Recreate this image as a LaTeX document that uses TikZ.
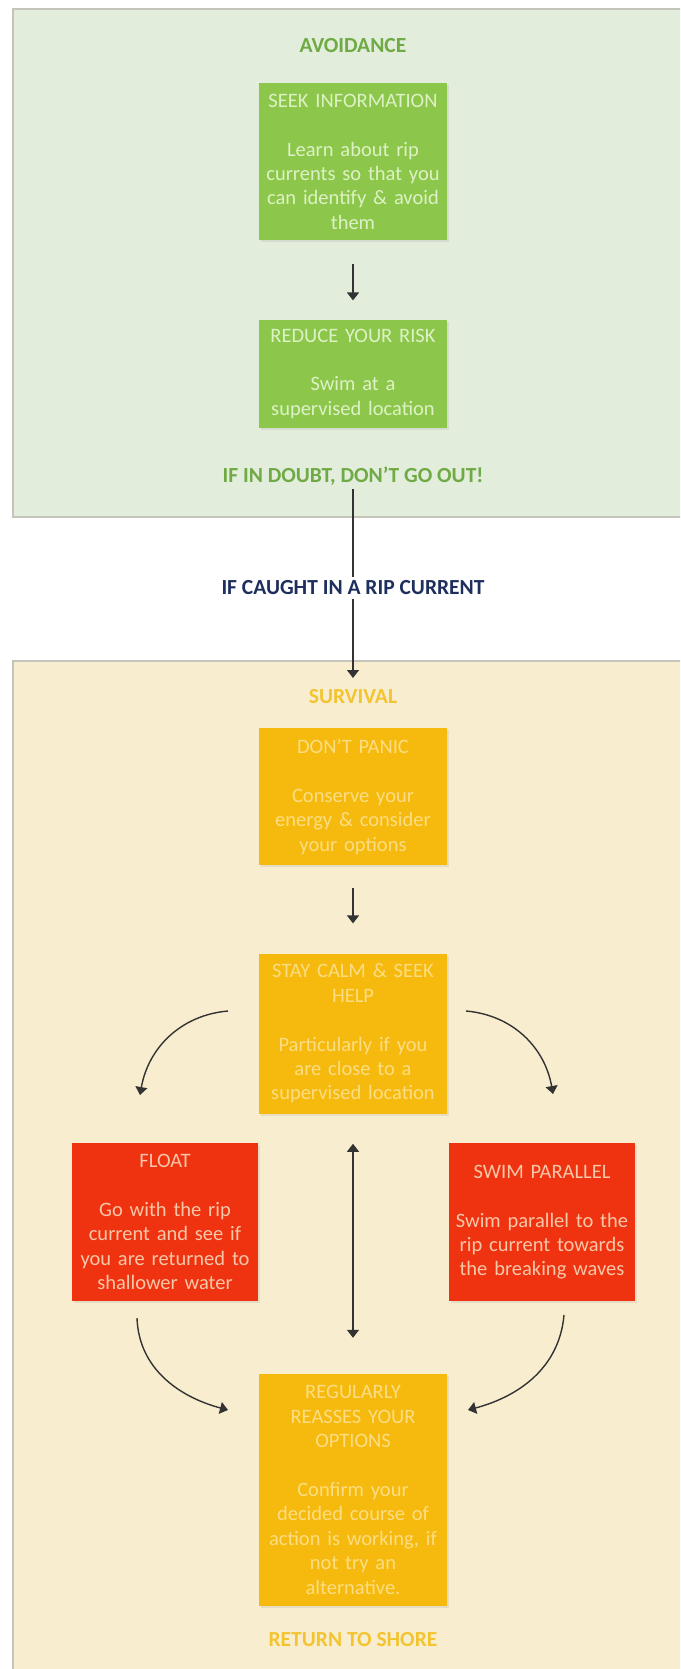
\documentclass[tikz,border=0pt]{standalone}
\usepackage{fontspec}
\setmainfont{Carlito}
\usetikzlibrary{positioning,arrows.meta,shadows}
\definecolor{avoidbg}{HTML}{E2EDDC}
\definecolor{survbg}{HTML}{F9EDCF}
\definecolor{edgegray}{HTML}{C4C4BC}
\definecolor{leafgreen}{HTML}{8CC74C}
\definecolor{leaftext}{HTML}{DDF2C4}
\definecolor{sungold}{HTML}{F5BA0D}
\definecolor{goldtext}{HTML}{FCDD84}
\definecolor{ripred}{HTML}{EF3311}
\definecolor{riptext}{HTML}{F8C7A8}
\definecolor{headgreen}{HTML}{6FAA45}
\definecolor{headgold}{HTML}{F2C530}
\definecolor{navy}{HTML}{1E2F5E}

\begin{document}
\begin{tikzpicture}[x=1pt,y=1pt,
  box/.style={rectangle,align=center,text width=178pt,inner xsep=5pt,inner ysep=4pt,
    font=\fontsize{20.5}{24.4}\selectfont,drop shadow={opacity=0.15,shadow xshift=2pt,shadow yshift=-2pt}},
  greenbox/.style={box,fill=leafgreen,text=leaftext},
  goldbox/.style={box,fill=sungold,text=goldtext},
  ripbox/.style={box,fill=ripred,text=riptext,text width=176pt},
  head/.style={font=\bfseries\fontsize{21.5}{24}\selectfont},
  link/.style={draw=black!80,line width=1.4pt},
  arr/.style={link,-{Triangle[width=12pt,length=8pt]}},
  panel/.style={draw=edgegray,line width=1.5pt}]
\clip (0,0) rectangle (680,-1669);
\fill[white] (0,0) rectangle (680,-1669);
\draw[panel,fill=avoidbg] (13,-9) rectangle (700,-517);
\draw[panel,fill=survbg] (13,-661) rectangle (700,-1700);

\node[head,text=headgreen] (avoid) at (353,-46) {AVOIDANCE};
\node[greenbox,anchor=north,minimum height=157pt] (seek) at (353,-83)
  {SEEK INFORMATION\\[24.4pt]Learn about rip\\currents so that you\\can identify \& avoid\\them};
\node[greenbox,below=79pt of seek,minimum height=108pt] (risk)
  {REDUCE YOUR RISK\\[24.4pt]Swim at a\\supervised location};
\node[head,text=headgreen] (doubt) at (353,-476) {IF IN DOUBT, DON'T GO OUT!};

\node[head,text=navy] (caught) at (353,-588) {IF CAUGHT IN A RIP CURRENT};
\coordinate (survtop) at (353,-678);

\node[head,text=headgold] (surv) at (353,-697) {SURVIVAL};
\node[goldbox,anchor=north,minimum height=137pt] (panic) at (353,-728)
  {DON'T PANIC\\[24.4pt]Conserve your\\energy \& consider\\your options};
\node[goldbox,below=88pt of panic,minimum height=160pt] (calm)
  {STAY CALM \& SEEK\\HELP\\[24.4pt]Particularly if you\\are close to a\\supervised location};
\node[ripbox,anchor=north,minimum height=158pt] (float) at (165,-1143)
  {FLOAT\\[24.4pt]Go with the rip\\current and see if\\you are returned to\\shallower water};
\node[ripbox,anchor=north,minimum height=158pt] (swim) at (542,-1143)
  {SWIM PARALLEL\\[24.4pt]Swim parallel to the\\rip current towards\\the breaking waves};
\node[goldbox,below=260pt of calm,minimum height=232pt] (reassess)
  {REGULARLY\\REASSES YOUR\\OPTIONS\\[24.4pt]Confirm your\\decided course of\\action is working, if\\not try an\\alternative.};
\node[head,text=headgold] (shore) at (353,-1640) {RETURN TO SHORE};

\coordinate (calmL) at (228,-1011);
\coordinate (floatT) at (140,-1095);
\coordinate (calmR) at (466,-1011);
\coordinate (swimT) at (553,-1094);
\coordinate (floatB) at (137,-1318);
\coordinate (regL) at (228,-1410);
\coordinate (swimB) at (564,-1315);
\coordinate (regR) at (468,-1410);

\draw[link] (doubt) -- (caught);
\draw[arr] (caught) -- (survtop);
\draw[arr,shorten <=24pt,shorten >=19pt] (seek) -- (risk);
\draw[arr,shorten <=23pt,shorten >=30pt] (panic) -- (calm);
\draw[link,{Triangle[width=12pt,length=8pt]}-{Triangle[width=12pt,length=8pt]},shorten <=30pt,shorten >=36pt] (calm) -- (reassess);
\draw[arr] (calmL) to[out=185,in=80] (floatT);
\draw[arr] (calmR) to[out=-5,in=100] (swimT);
\draw[arr] (floatB) to[out=-88,in=165] (regL);
\draw[arr] (swimB) to[out=-95,in=15] (regR);
\end{tikzpicture}
\end{document}
